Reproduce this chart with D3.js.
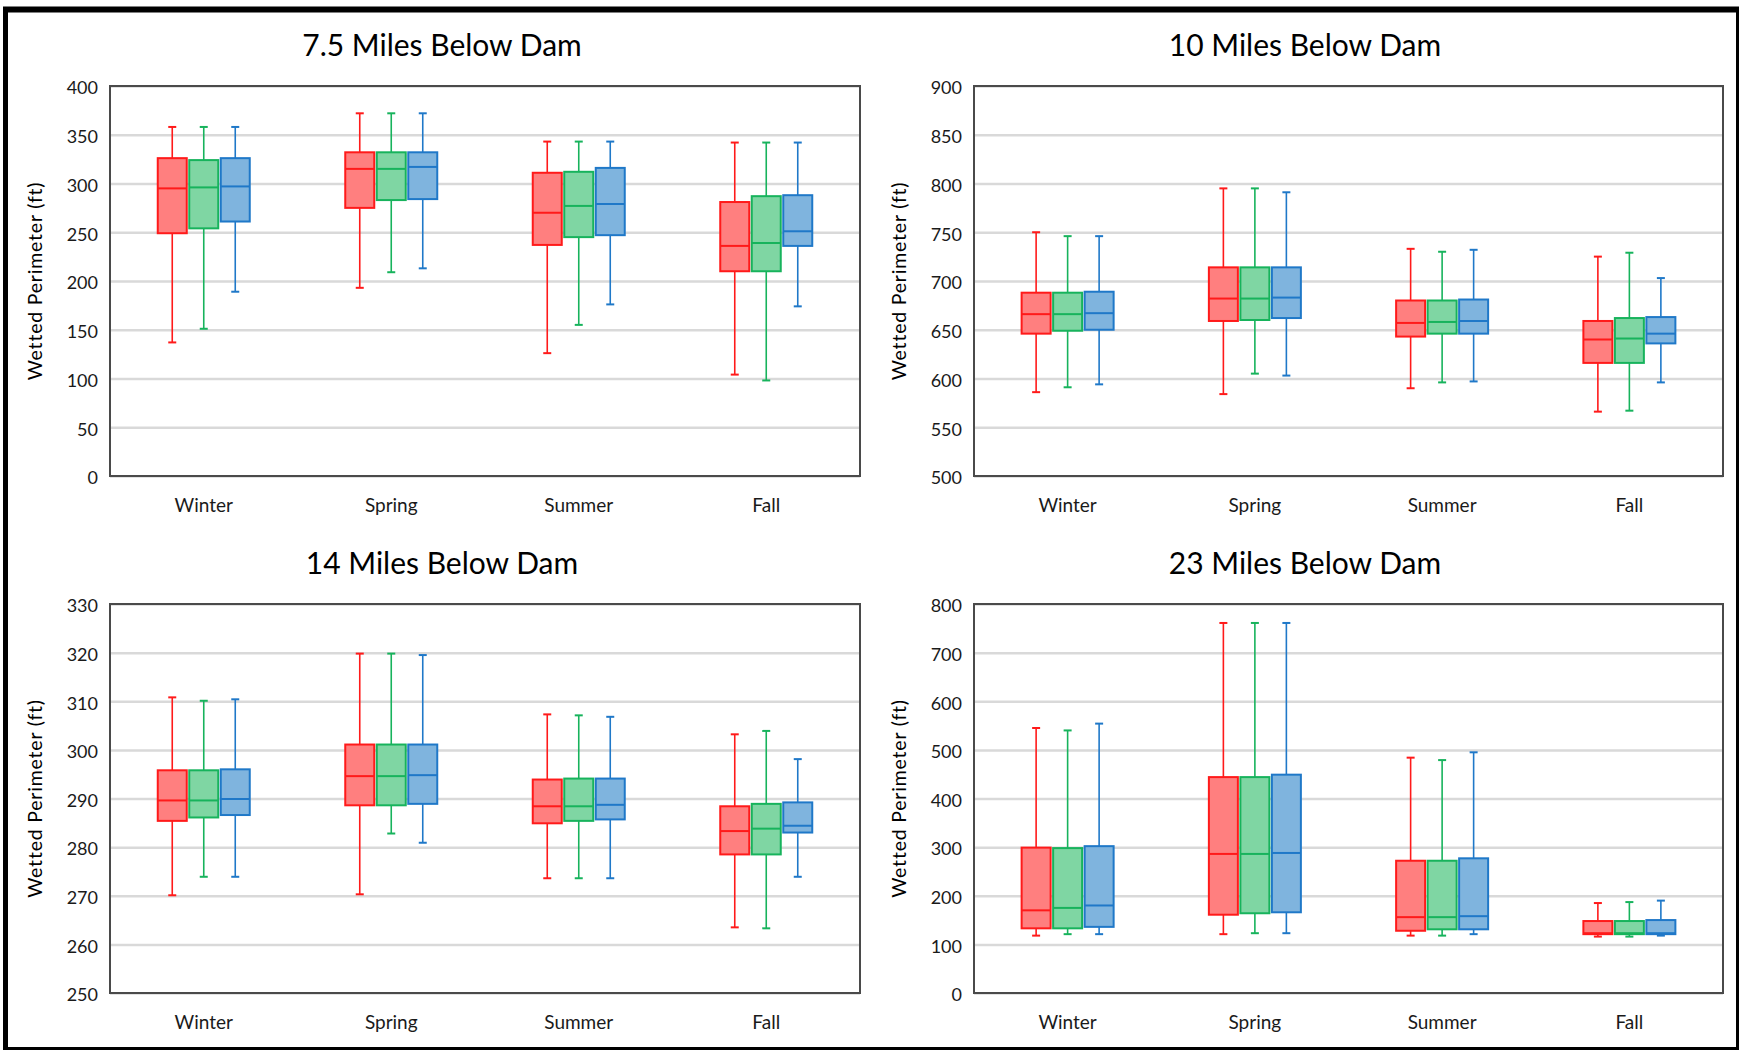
<!DOCTYPE html>
<html>
<head>
<meta charset="utf-8">
<script src="https://cdn.jsdelivr.net/npm/d3@7"></script>
<style>
  body { margin: 0; background: #fff; }
  svg { display: block; font-family: Lato, "Open Sans", sans-serif; }
</style>
</head>
<body>
<svg id="chart" width="1740" height="1051"></svg>
<script>
var seasons = ["Winter", "Spring", "Summer", "Fall"];
var seriesKeys = ["red", "green", "blue"];
var strokeColors = ["#ff1a1a", "#17b35c", "#1f78c8"];
var fillColors = ["#ff7f7f", "#7fd6a3", "#7fb4de"];

// each box: [min, q1, median, q3, max], per season -> [red, green, blue]
var mi75 = [
  [[137, 249, 295, 326, 358], [151, 254, 296, 324, 358], [189, 261, 297, 326, 358]],
  [[193, 275, 315, 332, 372], [209, 283, 315, 332, 372], [213, 284, 317, 332, 372]],
  [[126, 237, 270, 311, 343], [155, 245, 277, 312, 343], [176, 247, 279, 316, 343]],
  [[104, 210, 236, 281, 342], [98, 210, 239, 287, 342], [174, 236, 251, 288, 342]]
];
var mi10 = [
  [[586, 646, 666, 688, 750], [591, 649, 666, 688, 746], [594, 650, 667, 689, 746]],
  [[584, 659, 682, 714, 795], [605, 660, 682, 714, 795], [603, 662, 683, 714, 791]],
  [[590, 643, 657, 680, 733], [596, 646, 658, 680, 730], [597, 646, 659, 681, 732]],
  [[566, 616, 640, 659, 725], [567, 616, 641, 662, 729], [596, 636, 646, 663, 703]]
];
var mi14 = [
  [[270.1, 285.4, 289.6, 295.8, 310.8], [273.9, 286.1, 289.6, 295.8, 310.1], [273.9, 286.6, 289.9, 296.0, 310.4]],
  [[270.3, 288.6, 294.6, 301.1, 319.8], [282.8, 288.6, 294.6, 301.1, 319.8], [280.9, 288.9, 294.8, 301.1, 319.5]],
  [[273.6, 284.9, 288.4, 293.9, 307.3], [273.6, 285.4, 288.4, 294.1, 307.1], [273.6, 285.7, 288.7, 294.1, 306.8]],
  [[263.5, 278.5, 283.3, 288.4, 303.2], [263.3, 278.5, 283.8, 288.9, 303.9], [273.9, 283.0, 284.4, 289.2, 298.1]]
];
var mi23 = [
  [[118, 133, 170, 299, 545], [121, 133, 175, 298, 540], [121, 136, 180, 302, 554]],
  [[121, 161, 286, 444, 761], [123, 164, 286, 444, 761], [123, 166, 288, 449, 761]],
  [[118, 128, 156, 272, 484], [118, 131, 156, 272, 479], [121, 131, 158, 277, 495]],
  [[116, 121, 123, 148, 185], [116, 121, 123, 148, 187], [118, 121, 123, 150, 190]]
];

var titles = ["7.5 Miles Below Dam", "10 Miles Below Dam", "14 Miles Below Dam", "23 Miles Below Dam"];
var yDomains = [[0, 400], [500, 900], [250, 330], [0, 800]];
var yTicks = [d3.range(0, 401, 50), d3.range(500, 901, 50), d3.range(250, 331, 10), d3.range(0, 801, 100)];

var panels = [
  {data: mi75, x0: 110, x1: 860, y0: 86, y1: 476, tx: 442, ty: 56},
  {data: mi10, x0: 974, x1: 1723, y0: 86, y1: 476, tx: 1305, ty: 56},
  {data: mi14, x0: 110, x1: 860, y0: 604, y1: 993, tx: 442, ty: 574},
  {data: mi23, x0: 974, x1: 1723, y0: 604, y1: 993, tx: 1305, ty: 574}
];

var svg = d3.select("#chart");

// outer frame
svg.append("line").attr("x1", 3).attr("x2", 1739).attr("y1", 9.5).attr("y2", 9.5).attr("stroke", "#000").attr("stroke-width", 6);
svg.append("line").attr("x1", 5.5).attr("x2", 5.5).attr("y1", 7).attr("y2", 1050).attr("stroke", "#000").attr("stroke-width", 5);
svg.append("line").attr("x1", 1737.5).attr("x2", 1737.5).attr("y1", 7).attr("y2", 1050).attr("stroke", "#000").attr("stroke-width", 3);
svg.append("line").attr("x1", 3).attr("x2", 1739).attr("y1", 1048.5).attr("y2", 1048.5).attr("stroke", "#000").attr("stroke-width", 3);

panels.forEach(function(p, i) {
  var g = svg.append("g");
  var x = d3.scaleBand().domain(seasons).range([p.x0, p.x1]);
  var off = d3.scalePoint().domain(seriesKeys).range([-31.5, 31.5]);
  var y = d3.scaleLinear().domain(yDomains[i]).range([p.y1, p.y0]);
  var boxW = 29;

  // gridlines
  g.append("g")
    .attr("transform", "translate(" + p.x0 + ",0)")
    .call(d3.axisLeft(y).tickValues(yTicks[i]).tickSize(-(p.x1 - p.x0)).tickFormat(""))
    .call(function(a) {
      a.select(".domain").remove();
      a.selectAll("line").attr("stroke", "#d9d9d9").attr("stroke-width", 2.5);
    });

  // plot frame
  g.append("rect")
    .attr("x", p.x0).attr("y", p.y0)
    .attr("width", p.x1 - p.x0).attr("height", p.y1 - p.y0)
    .attr("fill", "none").attr("stroke", "#4a4a4a").attr("stroke-width", 2);

  // y tick labels
  g.append("g")
    .attr("transform", "translate(" + p.x0 + ",2)")
    .call(d3.axisLeft(y).tickValues(yTicks[i]).tickSize(0).tickPadding(12))
    .call(function(a) {
      a.select(".domain").remove();
      a.selectAll("text").attr("font-size", 18).attr("fill", "#1a1a1a")
        .attr("font-family", "Lato, sans-serif");
    });

  // x labels
  g.append("g")
    .selectAll("text")
    .data(seasons)
    .join("text")
    .attr("x", function(d) { return x(d) + x.bandwidth() / 2; })
    .attr("y", p.y1 + 36)
    .attr("text-anchor", "middle")
    .attr("font-size", 19)
    .attr("fill", "#1a1a1a")
    .text(function(d) { return d; });

  // title
  g.append("text")
    .attr("x", p.tx).attr("y", p.ty)
    .attr("text-anchor", "middle")
    .attr("font-size", 30)
    .attr("fill", "#000")
    .text(titles[i]);

  // y axis title
  g.append("text")
    .attr("transform", "translate(" + (p.x0 - 68) + "," + ((p.y0 + p.y1) / 2) + ") rotate(-90)")
    .attr("text-anchor", "middle")
    .attr("font-size", 19.5)
    .attr("letter-spacing", 0.8)
    .attr("fill", "#000")
    .text("Wetted Perimeter (ft)");

  // boxes
  var items = [];
  p.data.forEach(function(season, si) {
    season.forEach(function(v, k) {
      items.push({season: seasons[si], key: seriesKeys[k], k: k, v: v});
    });
  });

  var box = g.append("g").selectAll("g.box")
    .data(items)
    .join("g")
    .attr("class", "box")
    .attr("transform", function(d) {
      return "translate(" + (x(d.season) + x.bandwidth() / 2 + off(d.key)) + ",0)";
    });

  box.append("line")
    .attr("x1", 0).attr("x2", 0)
    .attr("y1", function(d) { return y(d.v[0]); })
    .attr("y2", function(d) { return y(d.v[4]); })
    .attr("stroke", function(d) { return strokeColors[d.k]; })
    .attr("stroke-width", 1.6);

  box.selectAll("line.cap")
    .data(function(d) { return [d, d].map(function(e, j) { return {k: e.k, val: j ? e.v[4] : e.v[0]}; }); })
    .join("line")
    .attr("class", "cap")
    .attr("x1", -4).attr("x2", 4)
    .attr("y1", function(d) { return y(d.val); })
    .attr("y2", function(d) { return y(d.val); })
    .attr("stroke", function(d) { return strokeColors[d.k]; })
    .attr("stroke-width", 2);

  box.append("rect")
    .attr("x", -boxW / 2)
    .attr("width", boxW)
    .attr("y", function(d) { return y(d.v[3]); })
    .attr("height", function(d) { return y(d.v[1]) - y(d.v[3]); })
    .attr("fill", function(d) { return fillColors[d.k]; })
    .attr("stroke", function(d) { return strokeColors[d.k]; })
    .attr("stroke-width", 2);

  box.append("line")
    .attr("x1", -boxW / 2).attr("x2", boxW / 2)
    .attr("y1", function(d) { return y(d.v[2]); })
    .attr("y2", function(d) { return y(d.v[2]); })
    .attr("stroke", function(d) { return strokeColors[d.k]; })
    .attr("stroke-width", 2);
});
</script>
</body>
</html>
